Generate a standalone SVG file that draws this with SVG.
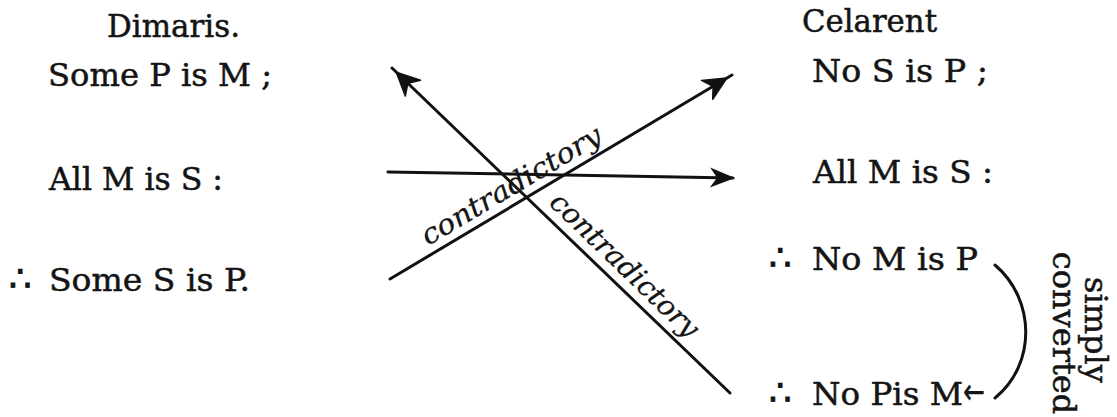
<svg xmlns="http://www.w3.org/2000/svg" width="1117" height="417" viewBox="0 0 1117 417">
<style>
.t{font-family:"DejaVu Serif","Liberation Serif",serif;font-size:32px;fill:#141414;stroke:#141414;stroke-width:0.5px;}
.th{font-family:"DejaVu Sans","DejaVu Serif",sans-serif;font-size:36px;fill:#141414;stroke:#141414;stroke-width:0.8px;}
.hand{font-family:"DejaVu Serif","Liberation Serif",serif;font-style:italic;font-size:28px;fill:#141414;stroke:#141414;stroke-width:0.3px;}
.ln{stroke:#111;stroke-width:3;fill:none;stroke-linecap:round;}
</style>
<defs>
<marker id="barb" markerUnits="userSpaceOnUse" markerWidth="40" markerHeight="40" refX="0" refY="0" orient="auto" overflow="visible">
<path d="M-6,0 L-29,-11 L-22,0 L-29,11 Z" fill="#111" stroke="#111" stroke-width="1.5" stroke-linejoin="round"/>
</marker>
<marker id="solid" markerUnits="userSpaceOnUse" markerWidth="40" markerHeight="40" refX="0" refY="0" orient="auto" overflow="visible">
<path d="M2,0 L-23,-10 L-16,0 L-23,10 Z" fill="#111"/>
</marker>
</defs>
<g id="dimaris-title"><text class="t" x="107" y="37" textLength="133" lengthAdjust="spacingAndGlyphs">Dimaris.</text></g>
<g id="dimaris-major"><text class="t" x="48" y="86" textLength="224" lengthAdjust="spacingAndGlyphs">Some P is M ;</text></g>
<g id="dimaris-minor"><text class="t" x="49" y="190" textLength="174" lengthAdjust="spacingAndGlyphs">All M is S :</text></g>
<g id="dimaris-conclusion"><text class="th" x="9" y="291">∴</text><text class="t" x="49" y="291" textLength="201" lengthAdjust="spacingAndGlyphs">Some S is P.</text></g>
<g id="celarent-title"><text class="t" x="802" y="32" textLength="135" lengthAdjust="spacingAndGlyphs">Celarent</text></g>
<g id="celarent-major"><text class="t" x="812" y="82" textLength="176" lengthAdjust="spacingAndGlyphs">No S is P ;</text></g>
<g id="celarent-minor"><text class="t" x="813" y="183" textLength="180" lengthAdjust="spacingAndGlyphs">All M is S :</text></g>
<g id="celarent-conclusion"><text class="th" x="769" y="270">∴</text><text class="t" x="812" y="270" textLength="166" lengthAdjust="spacingAndGlyphs">No M is P</text></g>
<g id="converted-conclusion"><text class="th" x="769" y="405">∴</text><text class="t" x="812" y="405" textLength="151" lengthAdjust="spacingAndGlyphs">No Pis M</text><text class="th" x="963" y="404" font-size="22" textLength="22" lengthAdjust="spacingAndGlyphs" style="stroke-width:0.3px">←</text></g>
<g id="simply-converted">
<text class="t" text-anchor="middle" transform="translate(1085,330) rotate(90)">simply</text>
<text class="t" text-anchor="middle" transform="translate(1053,333) rotate(90)">converted</text>
</g>
<g id="connectors">
<line class="ln" x1="730" y1="393" x2="392" y2="68" marker-end="url(#barb)"/>
<line class="ln" x1="390" y1="279" x2="732" y2="75" marker-end="url(#barb)"/>
<line class="ln" x1="388" y1="172" x2="733" y2="178" marker-end="url(#solid)"/>
<path class="ln" d="M995,265 C1036,300 1036,365 995,398" stroke-width="3.5"/>
</g>
<g id="labels">
<text class="hand" transform="translate(428,246) rotate(-30.8)" textLength="205" lengthAdjust="spacingAndGlyphs">contradictory</text>
<text class="hand" transform="translate(548,204) rotate(44)" textLength="195" lengthAdjust="spacingAndGlyphs">contradictory</text>
</g>
</svg>
